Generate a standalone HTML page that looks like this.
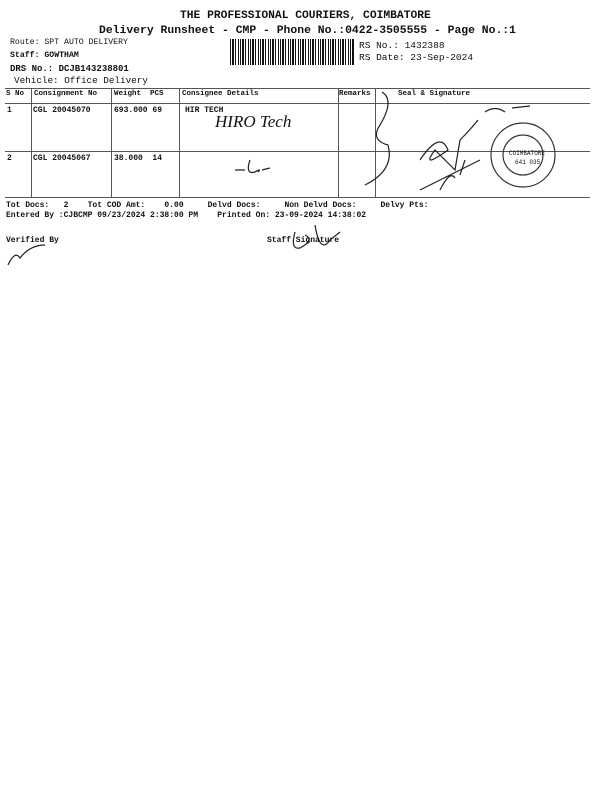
<!DOCTYPE html>
<html><head><style>
body{margin:0;width:600px;height:800px;background:#fff;position:relative;font-family:"Liberation Mono",monospace;color:#111;overflow:hidden}
.t{position:absolute;white-space:pre}
.b{font-weight:bold}
.l{position:absolute;background:#555}
</style></head><body>
<div class="t b" style="left:180px;top:10px;font-size:11.3px">THE PROFESSIONAL COURIERS, COIMBATORE</div>
<div class="t b" style="left:99px;top:25px;font-size:11.4px">Delivery Runsheet - CMP - Phone No.:0422-3505555 - Page No.:1</div>
<div class="t" style="left:10px;top:38px;font-size:8.2px">Route: SPT AUTO DELIVERY</div>
<div class="t b" style="left:10px;top:51px;font-size:8.2px">Staff: GOWTHAM</div>
<div class="t b" style="left:10px;top:64px;font-size:9px">DRS No.: DCJB143238801</div>
<div class="t" style="left:14px;top:75px;font-size:9.3px">Vehicle: Office Delivery</div>
<div class="t" style="left:359px;top:40px;font-size:9.5px">RS No.: 1432388</div>
<div class="t" style="left:359px;top:52px;font-size:9.5px">RS Date: 23-Sep-2024</div>
<div style="position:absolute;left:230px;top:39px;width:124px;height:26px;background:repeating-linear-gradient(90deg,#111 0 1px,#fff 1px 2px,#111 2px 4px,#fff 4px 5px,#111 5px 6px,#fff 6px 8px,#111 8px 9px,#fff 9px 10px)"></div>
<div class="l" style="left:5px;top:88px;width:585px;height:1px"></div>
<div class="l" style="left:5px;top:103px;width:585px;height:1px"></div>
<div class="l" style="left:5px;top:151px;width:585px;height:1px"></div>
<div class="l" style="left:5px;top:197px;width:585px;height:1px"></div>
<div class="l" style="left:31px;top:88px;width:1px;height:109px"></div>
<div class="l" style="left:111px;top:88px;width:1px;height:109px"></div>
<div class="l" style="left:179px;top:88px;width:1px;height:109px"></div>
<div class="l" style="left:338px;top:88px;width:1px;height:109px"></div>
<div class="l" style="left:375px;top:88px;width:1px;height:109px"></div>
<div class="t b" style="left:6px;top:90px;font-size:7.5px">S No</div>
<div class="t b" style="left:34px;top:90px;font-size:7.5px">Consignment No</div>
<div class="t b" style="left:114px;top:90px;font-size:7.5px">Weight  PCS</div>
<div class="t b" style="left:182px;top:90px;font-size:7.5px">Consignee Details</div>
<div class="t b" style="left:339px;top:90px;font-size:7.5px">Remarks</div>
<div class="t b" style="left:398px;top:90px;font-size:7.5px">Seal &amp; Signature</div>
<div class="t b" style="left:7px;top:106px;font-size:8px">1</div>
<div class="t b" style="left:33px;top:106px;font-size:8px">CGL 20045070</div>
<div class="t b" style="left:114px;top:106px;font-size:8px">693.000 69</div>
<div class="t b" style="left:185px;top:106px;font-size:8px">HIR TECH</div>
<div class="t b" style="left:7px;top:154px;font-size:8px">2</div>
<div class="t b" style="left:33px;top:154px;font-size:8px">CGL 20045067</div>
<div class="t b" style="left:114px;top:154px;font-size:8px">38.000  14</div>
<div class="t" style="left:215px;top:112px;font-size:17px;font-family:'Liberation Serif',serif;font-style:italic">HIRO Tech</div>
<svg style="position:absolute;left:0;top:0" width="600" height="800" fill="none" stroke="#222" stroke-width="1.2">
<path d="M382 92 Q395 100 380 125 Q370 140 388 145 Q395 170 365 185"/>
<path d="M235 170 L245 170 M250 160 Q245 175 255 172 Q262 168 258 172 M262 170 L270 168"/>
<path d="M420 160 Q440 130 448 150 Q420 170 435 150 L455 170 L460 140 Q470 130 478 120"/>
<path d="M420 190 L480 160 M440 190 Q450 170 455 178 M460 175 L465 160"/>
<path d="M485 112 Q495 105 505 112 M512 108 L530 106"/>
<circle cx="523" cy="155" r="32" stroke="#333"/>
<circle cx="523" cy="155" r="20" stroke="#333"/>
<path d="M295 232 Q290 250 300 248 Q315 240 305 235 M315 225 Q320 255 330 240 L340 232"/>
<path d="M8 265 Q15 250 20 258 Q30 245 45 245"/>
</svg>
<div class="t" style="left:509px;top:150px;font-size:6px">COIMBATORE</div>
<div class="t" style="left:515px;top:159px;font-size:6px">641 035</div>
<div class="t b" style="left:6px;top:201px;font-size:8px">Tot Docs:   2    Tot COD Amt:    0.00     Delvd Docs:     Non Delvd Docs:     Delvy Pts:</div>
<div class="t b" style="left:6px;top:211px;font-size:8px">Entered By :CJBCMP 09/23/2024 2:38:00 PM    Printed On: 23-09-2024 14:38:02</div>
<div class="t b" style="left:6px;top:236px;font-size:8px">Verified By</div>
<div class="t b" style="left:267px;top:236px;font-size:8px">Staff Signature</div>
</body></html>
